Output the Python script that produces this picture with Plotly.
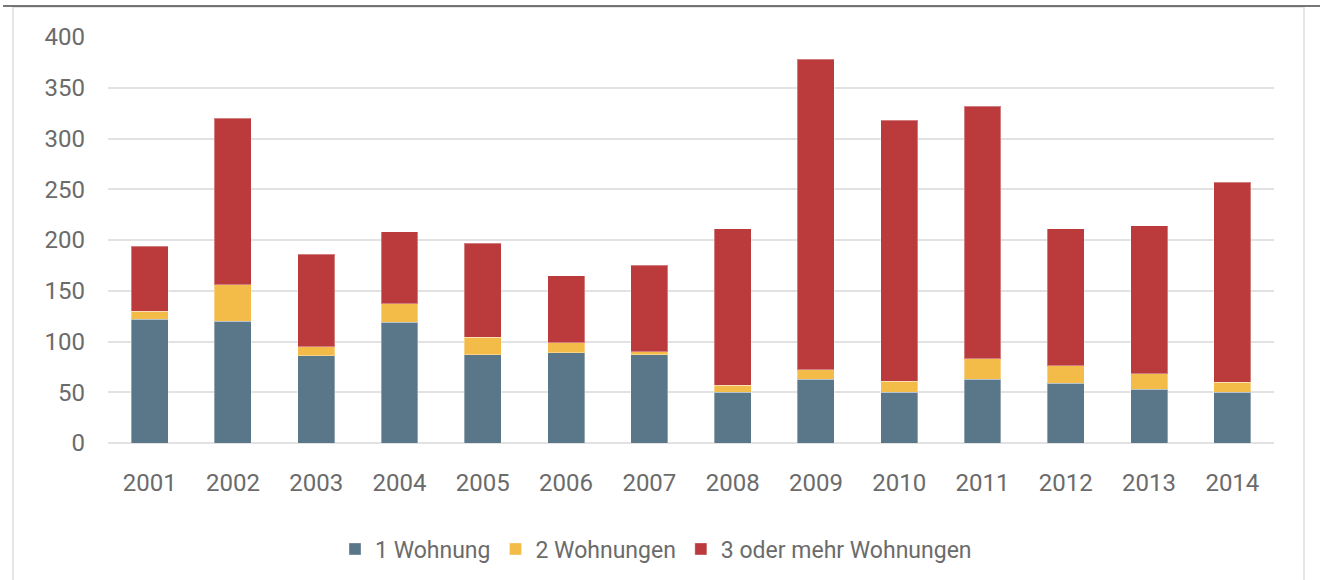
import plotly.graph_objects as go

years = ["2001", "2002", "2003", "2004", "2005", "2006", "2007",
         "2008", "2009", "2010", "2011", "2012", "2013", "2014"]
one_flat = [122, 120, 86, 119, 87, 89, 87, 50, 63, 50, 63, 59, 53, 50]
two_flats = [8, 36, 9, 18, 17, 10, 3, 7, 9, 11, 20, 17, 15, 10]
three_plus = [64, 164, 91, 71, 93, 66, 85, 154, 306, 257, 249, 135, 146, 197]

series_names = ["1 Wohnung", "2 Wohnungen", "3 oder mehr Wohnungen"]
series_colors = ["#5a7689", "#f3bb48", "#bb3a3c"]
y_ticks = [0, 50, 100, 150, 200, 250, 300, 350, 400]

FONT = "Roboto, Arial, sans-serif"
TXT = "#6b6b6b"

fig = go.Figure()
for name, vals, col in zip(series_names, [one_flat, two_flats, three_plus], series_colors):
    fig.add_trace(go.Bar(
        x=years, y=vals, name=name,
        marker=dict(color=col, line=dict(color="rgba(255,255,255,0.35)", width=1)),
    ))

# pixel -> paper helpers (plot area: x 108..1274, y 37..443)
L, R, T, B = 108, 1274, 37, 443
def px(x):
    return (x - L) / (R - L)
def py(y):
    return (B - y) / (B - T)

shapes = [
    dict(type="rect", xref="paper", yref="paper",
         x0=px(13), x1=px(1304), y0=py(600), y1=py(7),
         line=dict(color="#dedede", width=1.5), fillcolor="rgba(0,0,0,0)", layer="below"),
    dict(type="line", xref="paper", yref="paper",
         x0=px(3), x1=px(1320), y0=py(6), y1=py(6),
         line=dict(color="#4a4a4a", width=1.5)),
]

fig.update_layout(
    width=1325, height=580,
    margin=dict(l=L, r=1325 - R, t=T, b=580 - B, autoexpand=False),
    barmode="stack",
    bargap=0.556,
    paper_bgcolor="white",
    plot_bgcolor="white",
    font=dict(family=FONT, color=TXT, size=23),
    showlegend=True,
    legend=dict(orientation="h", x=px(656), xanchor="center", y=py(549), yanchor="middle",
                font=dict(family=FONT, size=23, color=TXT), traceorder="normal",
                itemwidth=30),
    shapes=shapes,
    xaxis=dict(showgrid=False, showline=False, ticks="", tickfont=dict(size=24, color=TXT),
               ticklabelstandoff=23, fixedrange=True),
    yaxis=dict(range=[0, 400], tickvals=y_ticks, showgrid=True, gridcolor="#e2e2e2", gridwidth=1.5,
               zeroline=True, zerolinecolor="#e2e2e2", zerolinewidth=1.5,
               showline=False, ticks="", tickfont=dict(size=24, color=TXT),
               ticklabelstandoff=22, fixedrange=True),
)

fig.write_html("out.html", config={"displayModeBar": False},
               post_script="document.body.style.margin='0';")
